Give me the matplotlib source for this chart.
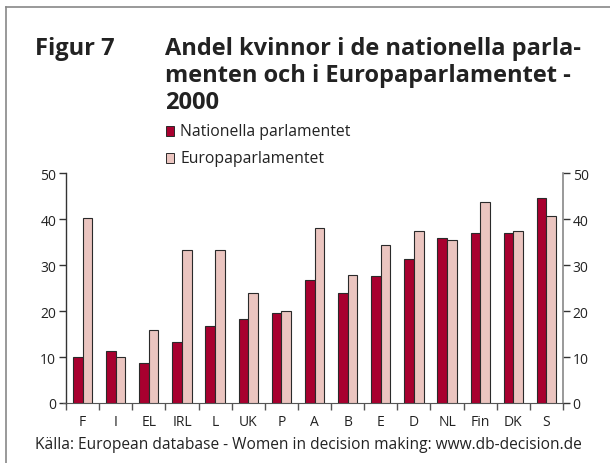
import matplotlib
matplotlib.use("Agg")
import matplotlib.pyplot as plt
import numpy as np
from matplotlib.patches import Rectangle
from matplotlib.lines import Line2D

categories = ["F", "I", "EL", "IRL", "L", "UK", "P", "A", "B", "E", "D", "NL", "Fin", "DK", "S"]
nationella = [10.1, 11.2, 8.6, 13.2, 16.7, 18.3, 19.5, 26.8, 24.0, 27.7, 31.2, 35.9, 36.9, 36.9, 44.5]
europa = [40.2, 10.1, 15.9, 33.3, 33.3, 24.0, 19.9, 38.0, 27.9, 34.3, 37.3, 35.4, 43.7, 37.4, 40.7]
yticks = [0, 10, 20, 30, 40, 50]
series_names = ["Nationella parlamentet", "Europaparlamentet"]

c_nat = "#A8002F"
c_eu = "#EBC5C0"
edge = "#2a2a2a"
txt = "#222222"
font = "Open Sans"

fig = plt.figure(figsize=(6.10, 4.64), dpi=100)
W, H = 610, 464

def fx(px):
    return px / W

def fy(py):
    return 1 - py / H

# outer frame (left + top visible)
fig.add_artist(Line2D([fx(6), fx(6)], [fy(8), 0], color="#888888", lw=1.2, transform=fig.transFigure))
fig.add_artist(Line2D([fx(6), 1], [fy(8), fy(8)], color="#888888", lw=1.2, transform=fig.transFigure))

ax = fig.add_axes([fx(66), fy(404), fx(563) - fx(66), fy(174) - fy(404)])
n = len(categories)
x = np.arange(n)
bw = 0.29
ax.bar(x - bw / 2, nationella, width=bw, color=c_nat, edgecolor=edge, linewidth=0.8, zorder=3)
ax.bar(x + bw / 2, europa, width=bw, color=c_eu, edgecolor=edge, linewidth=0.8, zorder=3)

ax.set_xlim(-0.5, n - 0.5)
ax.set_ylim(0, 50)
ax.set_yticks(yticks)
ax.set_yticklabels([str(v) for v in yticks], fontsize=10, color=txt, family=font)
ax.tick_params(axis="y", direction="out", length=5, width=1, color="#333333", pad=2,
               right=True, labelright=True)
# x ticks at boundaries
ax.set_xticks(np.arange(n + 1) - 0.5)
ax.set_xticklabels([])
ax.set_xticks(x, minor=True)
ax.set_xticklabels(categories, minor=True, fontsize=10, color=txt, family=font)
ax.tick_params(axis="x", which="major", direction="out", length=5, width=1, color="#555555")
ax.tick_params(axis="x", which="minor", length=0, pad=8)

ax.spines["top"].set_visible(False)
ax.spines["left"].set_color("#333333")
ax.spines["right"].set_color("#888888")
ax.spines["bottom"].set_color("#555555")
ax.spines["bottom"].set_bounds(-0.6, n - 0.5)
ax.spines["left"].set_linewidth(1.0)
ax.spines["right"].set_linewidth(1.2)
ax.set_facecolor("white")

# Title
fig.text(fx(35), fy(55), "Figur 7", fontsize=17, fontweight="bold", color=txt, family=font, va="baseline")
title_lines = ["Andel kvinnor i de nationella parla-",
               "menten och i Europaparlamentet -",
               "2000"]
for i, line in enumerate(title_lines):
    fig.text(fx(165), fy(55 + 27 * i), line, fontsize=17, fontweight="bold", color=txt,
             family=font, va="baseline")

# legend
for i, (name, col) in enumerate(zip(series_names, [c_nat, c_eu])):
    yc = 132 + 27 * i
    fig.add_artist(Rectangle((fx(166), fy(yc + 5)), fx(8), fy(yc - 5) - fy(yc + 5),
                             facecolor=col, edgecolor=edge, linewidth=0.7, transform=fig.transFigure))
    fig.text(fx(180), fy(yc), name, fontsize=11.3, color=txt, family=font, va="center")

fig.text(fx(35), fy(445), "Källa: European database - Women in decision making: www.db-decision.de",
         fontsize=11.2, color=txt, family=font, va="center")

fig.savefig("out.png", dpi=100, facecolor="white")
